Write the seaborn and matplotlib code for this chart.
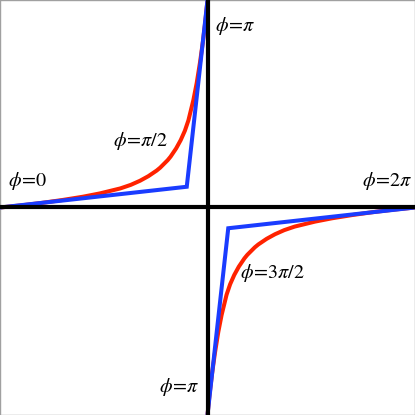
import matplotlib
matplotlib.use("Agg")
import matplotlib.pyplot as plt
import seaborn as sns
import pandas as pd

sns.set_style("white")
plt.rcParams["mathtext.fontset"] = "stix"

# Red curve, upper-left branch
red_upper_x = [-1.0, -0.9, -0.8, -0.7, -0.6, -0.518, -0.42, -0.37, -0.325, -0.285, -0.245, -0.228, -0.21,
               -0.192, -0.178, -0.151, -0.129, -0.109, -0.092, -0.068, -0.052, -0.036, -0.022, -0.010, 0.0]
red_upper_y = [0.0, 0.010, 0.022, 0.036, 0.052, 0.068, 0.092, 0.109, 0.129, 0.151, 0.178, 0.192, 0.21,
               0.228, 0.245, 0.285, 0.325, 0.37, 0.42, 0.518, 0.6, 0.7, 0.8, 0.9, 1.0]
# Red curve, lower-right branch
red_lower_x = [1.0, 0.9, 0.8, 0.7, 0.6, 0.518, 0.42, 0.37, 0.325, 0.285, 0.245, 0.228, 0.21,
               0.192, 0.178, 0.151, 0.129, 0.109, 0.092, 0.068, 0.052, 0.036, 0.022, 0.010, 0.0]
red_lower_y = [0.0, -0.010, -0.022, -0.036, -0.052, -0.068, -0.092, -0.109, -0.129, -0.151, -0.178, -0.192, -0.21,
               -0.228, -0.245, -0.285, -0.325, -0.37, -0.42, -0.518, -0.6, -0.7, -0.8, -0.9, -1.0]

# Blue polylines
blue_upper_x = [-1.0, -0.10, 0.0]
blue_upper_y = [0.0, 0.10, 1.0]
blue_lower_x = [0.0, 0.10, 1.0]
blue_lower_y = [-1.0, -0.10, 0.0]

# Labels
label_texts = [r"$\phi\!=\!\pi$", r"$\phi\!=\!\pi/2$", r"$\phi\!=\!0$", r"$\phi\!=\!2\pi$", r"$\phi\!=\!3\pi/2$", r"$\phi\!=\!\pi$"]
label_x = [0.036, -0.455, -0.961, 0.986, 0.157, -0.041]
label_y = [0.875, 0.320, 0.130, 0.128, -0.316, -0.865]
label_ha = ["left", "left", "left", "right", "left", "right"]

fig = plt.figure(figsize=(4.15, 4.15), dpi=100)
ax = fig.add_axes([0, 0, 1, 1])

red_color = "#ff2200"
blue_color = "#1a3cff"

for xs, ys in [(red_upper_x, red_upper_y), (red_lower_x, red_lower_y)]:
    df = pd.DataFrame({"x": xs, "y": ys})
    sns.lineplot(data=df, x="x", y="y", sort=False, ax=ax, color=red_color,
                 linewidth=2.9, estimator=None, zorder=2,
                 solid_joinstyle="round", solid_capstyle="butt")
for xs, ys in [(blue_upper_x, blue_upper_y), (blue_lower_x, blue_lower_y)]:
    df = pd.DataFrame({"x": xs, "y": ys})
    sns.lineplot(data=df, x="x", y="y", sort=False, ax=ax, color=blue_color,
                 linewidth=2.9, estimator=None, zorder=3,
                 solid_joinstyle="miter", solid_capstyle="butt")

ax.axhline(0, color="black", linewidth=3.0, zorder=4)
ax.axvline(0, color="black", linewidth=3.0, zorder=4)

for t, x, y, ha in zip(label_texts, label_x, label_y, label_ha):
    ax.text(x, y, t, ha=ha, va="center", fontsize=14.5, color="black", zorder=5)

ax.set_xlim(-1, 1)
ax.set_ylim(-1, 1)
ax.set_xticks([])
ax.set_yticks([])
ax.set_xlabel("")
ax.set_ylabel("")
for s in ax.spines.values():
    s.set_color("#a0a0a0")
    s.set_linewidth(1.0)

fig.savefig("out.png", dpi=100)
